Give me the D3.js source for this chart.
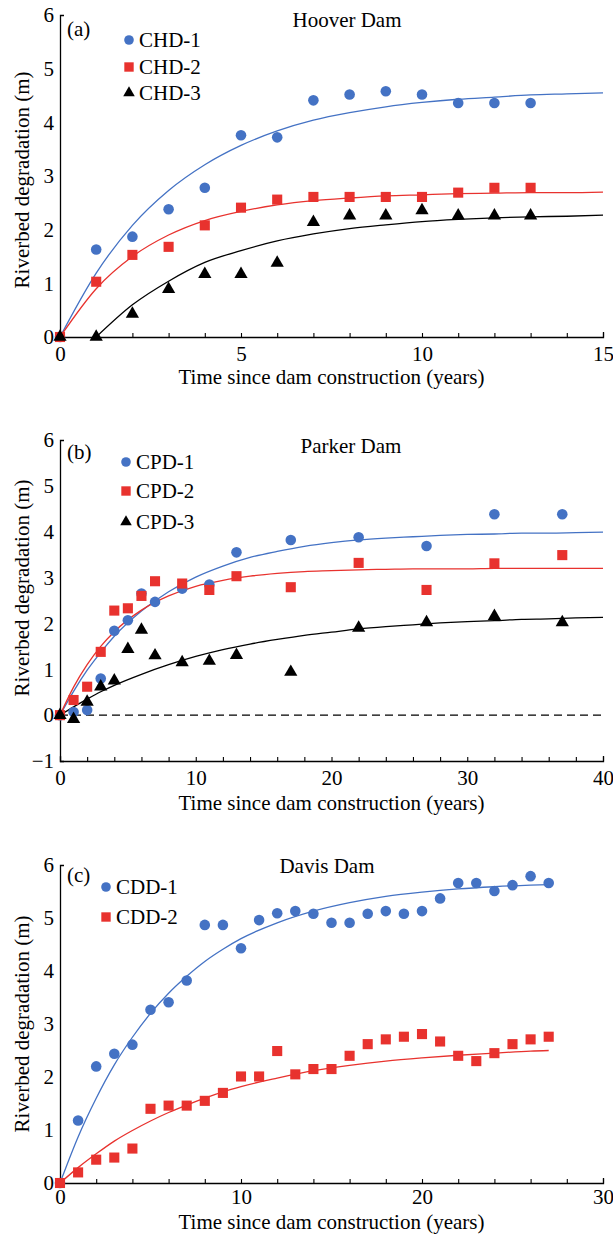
<!DOCTYPE html>
<html><head><meta charset="utf-8">
<script src="https://cdn.jsdelivr.net/npm/d3@7"></script>
<style>body{margin:0;background:#fff} svg{display:block}</style>
</head><body>
<script>
// ---------- Panel (a) Hoover Dam ----------
const yearsA = [0,1,2,3,4,5,6,7,8,9,10,11,12,13];
const chd1 = [0,1.63,1.87,2.38,2.78,3.76,3.72,4.41,4.52,4.58,4.52,4.36,4.36,4.36];
const chd2 = [0,1.03,1.53,1.68,2.08,2.41,2.56,2.61,2.61,2.61,2.61,2.69,2.78,2.78];
const chd3 = [0,0,0.43,0.89,1.17,1.17,1.38,2.14,2.26,2.26,2.36,2.26,2.26,2.26];
const fitYearsA = [0,1,2,3,4,5,6,7,8,9,10,11,12,13,14,15];
const fitCHD1 = [0,1.19,2.08,2.73,3.21,3.57,3.84,4.04,4.18,4.29,4.37,4.43,4.47,4.51,4.53,4.55];
const fitCHD2 = [0,0.90,1.50,1.90,2.17,2.34,2.46,2.54,2.59,2.63,2.65,2.67,2.68,2.69,2.69,2.70];
const fitYearsA3 = [1,2,3,4,5,6,7,8,9,10,11,12,13,14,15];
const fitCHD3 = [0,0.60,1.04,1.39,1.61,1.79,1.92,2.02,2.09,2.15,2.19,2.22,2.24,2.25,2.27];

// ---------- Panel (b) Parker Dam ----------
const yearsB = [0,1,2,3,4,5,6,7,9,11,13,17,22,27,32,37];
const cpd1 = [0,0.07,0.11,0.80,1.84,2.07,2.65,2.47,2.76,2.85,3.55,3.82,3.88,3.69,4.38,4.38];
const cpd2 = [0,0.33,0.62,1.38,2.28,2.33,2.60,2.92,2.87,2.73,3.03,2.79,3.32,2.73,3.31,3.49];
const cpd3 = [0,-0.09,0.29,0.62,0.75,1.44,1.86,1.30,1.15,1.18,1.31,0.94,1.90,2.02,2.16,2.02];
const fitYearsB = [0,1,2,3,4,6,8,10,12,14,16,18,20,22,24,26,28,30,32,34,36,38,40];
const fitCPD1 = [0,0.52,0.98,1.37,1.72,2.27,2.69,3.01,3.25,3.44,3.57,3.68,3.76,3.82,3.86,3.89,3.92,3.94,3.95,3.97,3.97,3.98,3.99];
const fitCPD2 = [0,0.61,1.10,1.50,1.82,2.29,2.60,2.81,2.94,3.03,3.09,3.13,3.15,3.17,3.18,3.19,3.19,3.19,3.20,3.20,3.20,3.20,3.20];
const fitCPD3 = [0,0.18,0.35,0.51,0.65,0.89,1.10,1.28,1.43,1.55,1.65,1.74,1.81,1.88,1.93,1.97,2.01,2.04,2.06,2.09,2.10,2.12,2.13];

// ---------- Panel (c) Davis Dam ----------
const yearsC = [0,1,2,3,4,5,6,7,8,9,10,11,12,13,14,15,16,17,18,19,20,21,22,23,24,25,26,27];
const cdd1 = [0,1.18,2.20,2.44,2.61,3.27,3.41,3.82,4.87,4.87,4.43,4.96,5.09,5.13,5.08,4.91,4.91,5.08,5.13,5.08,5.13,5.37,5.66,5.66,5.51,5.62,5.79,5.66];
const cdd2 = [0,0.20,0.44,0.48,0.65,1.40,1.46,1.46,1.55,1.70,2.01,2.01,2.49,2.05,2.15,2.15,2.40,2.62,2.71,2.76,2.81,2.67,2.40,2.30,2.45,2.62,2.71,2.76];
const fitYearsC = [0,1,2,3,4,5,6,7,8,9,10,12,14,16,18,20,22,24,26,27];
const fitCDD1 = [0,0.87,1.60,2.23,2.75,3.20,3.58,3.90,4.18,4.41,4.61,4.91,5.13,5.29,5.41,5.49,5.55,5.59,5.62,5.63];
const fitCDD2 = [0,0.29,0.55,0.79,0.99,1.17,1.33,1.47,1.60,1.72,1.82,1.98,2.12,2.22,2.30,2.36,2.41,2.45,2.49,2.50];

// ---------- Tick values ----------
const xMinorA = d3.range(0,16,1), xMajorA = [0,5,10,15];
const xMinorB = d3.range(0,41,2), xMajorB = [0,10,20,30,40];
const xMinorC = d3.range(0,31,2), xMajorC = [0,10,20,30];
const yTicksA = [0,1,2,3,4,5,6];
const yTicksB = [-1,0,1,2,3,4,5,6];
const yTicksC = [0,1,2,3,4,5,6];

const W = 613, H = 1234;
const FONT = "'Liberation Serif','Times New Roman',Times,serif";
const BLUE = "#4472c4", RED = "#e8322e", BLACK = "#000000";
const XTITLE = "Time since dam construction (years)";
const YTITLE = "Riverbed degradation (m)";

const svg = d3.select("body").append("svg").attr("width", W).attr("height", H)
  .style("font-family", FONT);

const shapes = {circle: d3.symbolCircle, square: d3.symbolSquare, triangle: d3.symbolTriangle};
const sizes = {circle: Math.PI*5.3*5.3, square: 102, triangle: 76};
const legSizes = {circle: Math.PI*4.8*4.8, square: 88, triangle: 58};

function panel(cfg) {
  const g = svg.append("g");
  const x = d3.scaleLinear().domain(cfg.xDomain).range([60, 603]);
  const y = d3.scaleLinear().domain(cfg.yDomain).range([cfg.bottom, cfg.top]);

  if (cfg.zeroLine) {
    g.append("line").attr("x1", x(cfg.xDomain[0])).attr("x2", x(cfg.xDomain[1]) - 2)
      .attr("y1", y(0)).attr("y2", y(0))
      .attr("stroke", "#000").attr("stroke-width", 1.2).attr("stroke-dasharray", "8,5");
  }

  const xa = d3.axisBottom(x).tickValues(cfg.xMinor).tickSizeInner(-4).tickSizeOuter(-5)
    .tickPadding(cfg.xPad).tickFormat(d => cfg.xMajor.includes(d) ? String(d) : "");
  const gx = g.append("g").attr("transform", `translate(0,${cfg.bottom})`).call(xa);
  const ya = d3.axisLeft(y).tickValues(cfg.yTicks).tickSizeInner(0).tickSizeOuter(-4)
    .tickPadding(6).tickFormat(d => d < 0 ? "\u2212" + Math.abs(d) : String(d));
  const gy = g.append("g").attr("transform", `translate(60,0)`).call(ya);
  [gx, gy].forEach(a => {
    a.select(".domain").attr("stroke", "#000").attr("stroke-width", 1.3);
    a.selectAll(".tick line").attr("stroke", "#000").attr("stroke-width", 1.1);
    a.selectAll("text").attr("font-family", FONT).attr("font-size", 21).attr("fill", "#000");
  });

  g.append("text").attr("x", 331.5).attr("y", cfg.xTitleY).attr("text-anchor", "middle")
    .attr("font-size", 21).text(XTITLE);
  g.append("text").attr("transform", `translate(29,${cfg.yTitleC}) rotate(-90)`)
    .attr("text-anchor", "middle").attr("font-size", 21).text(YTITLE);

  g.append("text").attr("x", cfg.titleX).attr("y", cfg.titleY).attr("text-anchor", "middle")
    .attr("font-size", 21).text(cfg.title);
  g.append("text").attr("x", 67).attr("y", cfg.labelY).attr("font-size", 21).text(cfg.label);

  const line = d3.line().x(d => x(d[0])).y(d => y(d[1])).curve(d3.curveMonotoneX);
  cfg.fits.forEach(f => {
    g.append("path").datum(d3.zip(f.t, f.v)).attr("d", line)
      .attr("fill", "none").attr("stroke", f.color).attr("stroke-width", 1.3);
  });

  cfg.series.forEach(s => {
    const sym = d3.symbol().type(shapes[s.shape]).size(sizes[s.shape]);
    g.append("g").selectAll("path").data(d3.zip(s.t, s.v)).join("path")
      .attr("d", sym).attr("fill", s.color)
      .attr("transform", d => `translate(${x(d[0])},${y(d[1])})`);
  });

  cfg.series.forEach((s, i) => {
    const cy = cfg.legend.y[i];
    const sym = d3.symbol().type(shapes[s.shape]).size(legSizes[s.shape]);
    g.append("path").attr("d", sym).attr("fill", s.color)
      .attr("transform", `translate(${cfg.legend.x},${cy})`);
    g.append("text").attr("x", cfg.legend.x + 10).attr("y", cy + 7)
      .attr("font-size", 21).text(s.name);
  });
}

panel({
  xDomain: [0, 15], yDomain: [0, 6], top: 15, bottom: 337, xPad: 9,
  xMinor: xMinorA, xMajor: xMajorA, yTicks: yTicksA,
  xTitleY: 384, yTitleC: 180,
  title: "Hoover Dam", titleX: 347, titleY: 27, label: "(a)", labelY: 36,
  fits: [
    {t: fitYearsA, v: fitCHD1, color: BLUE},
    {t: fitYearsA, v: fitCHD2, color: RED},
    {t: fitYearsA3, v: fitCHD3, color: BLACK}
  ],
  series: [
    {name: "CHD-1", t: yearsA, v: chd1, color: BLUE, shape: "circle"},
    {name: "CHD-2", t: yearsA, v: chd2, color: RED, shape: "square"},
    {name: "CHD-3", t: yearsA, v: chd3, color: BLACK, shape: "triangle"}
  ],
  legend: {x: 129, y: [40, 67, 93]}
});

panel({
  xDomain: [0, 40], yDomain: [-1, 6], top: 440, bottom: 761, xPad: 9,
  xMinor: xMinorB, xMajor: xMajorB, yTicks: yTicksB, zeroLine: true,
  xTitleY: 810, yTitleC: 588,
  title: "Parker Dam", titleX: 351, titleY: 453, label: "(b)", labelY: 459,
  fits: [
    {t: fitYearsB, v: fitCPD1, color: BLUE},
    {t: fitYearsB, v: fitCPD2, color: RED},
    {t: fitYearsB, v: fitCPD3, color: BLACK}
  ],
  series: [
    {name: "CPD-1", t: yearsB, v: cpd1, color: BLUE, shape: "circle"},
    {name: "CPD-2", t: yearsB, v: cpd2, color: RED, shape: "square"},
    {name: "CPD-3", t: yearsB, v: cpd3, color: BLACK, shape: "triangle"}
  ],
  legend: {x: 126, y: [462, 491, 522]}
});

panel({
  xDomain: [0, 30], yDomain: [0, 6], top: 865, bottom: 1183, xPad: 6,
  xMinor: xMinorC, xMajor: xMajorC, yTicks: yTicksC,
  xTitleY: 1229, yTitleC: 1024,
  title: "Davis Dam", titleX: 327, titleY: 873, label: "(c)", labelY: 882,
  fits: [
    {t: fitYearsC, v: fitCDD1, color: BLUE},
    {t: fitYearsC, v: fitCDD2, color: RED}
  ],
  series: [
    {name: "CDD-1", t: yearsC, v: cdd1, color: BLUE, shape: "circle"},
    {name: "CDD-2", t: yearsC, v: cdd2, color: RED, shape: "square"}
  ],
  legend: {x: 106, y: [887, 917]}
});
</script>
</body></html>
